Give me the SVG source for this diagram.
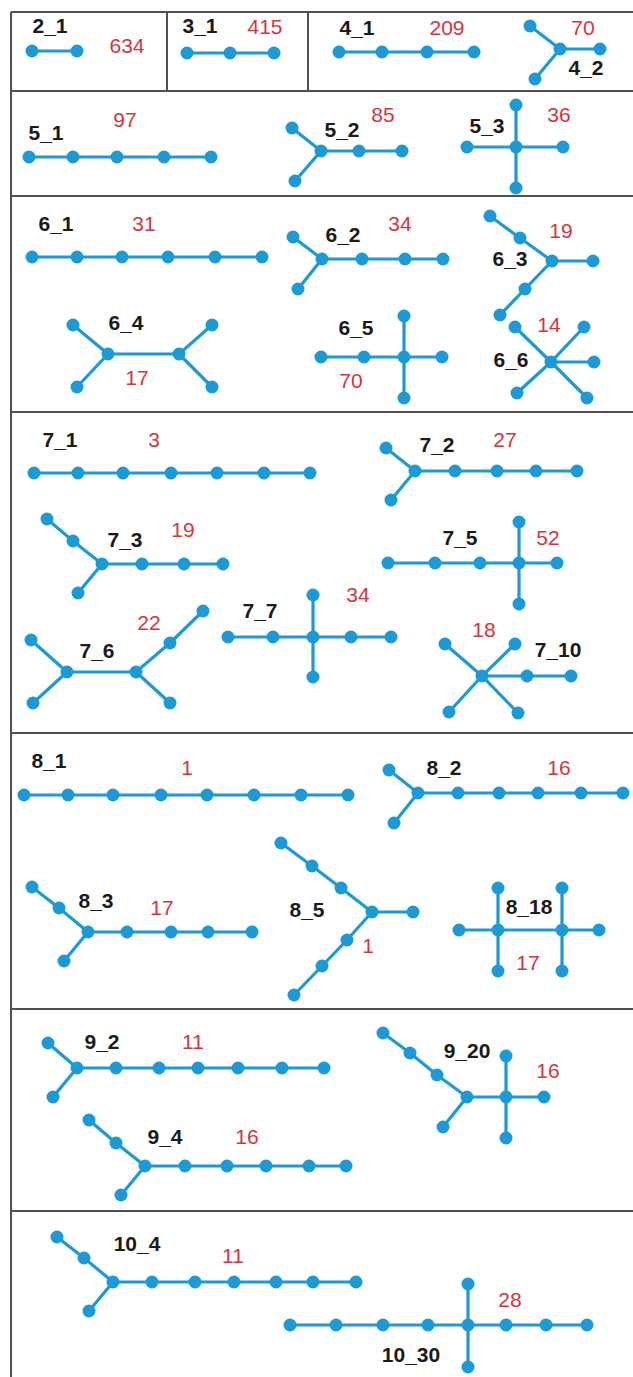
<svg xmlns="http://www.w3.org/2000/svg" width="633" height="1377" viewBox="0 0 633 1377">
<style>
.bd{stroke:#505050;stroke-width:2;fill:none}
.e{stroke:#1b9ad6;stroke-width:3.2;fill:none;stroke-linecap:round}
.n circle{fill:#1b9ad6}
.lb{font-family:"Liberation Sans",Arial,sans-serif;font-size:21px;font-weight:bold;fill:#1a1a1a;text-anchor:middle}
.ct{font-family:"Liberation Sans",Arial,sans-serif;font-size:21px;fill:#d6343c;text-anchor:middle}
</style>
<rect width="633" height="1377" fill="#ffffff"/>
<g id="frame" class="bd">
<path d="M11 12V1377M11 12H633M11 91H633M11 196H633M11 412H633M11 733H633M11 1009H633M11 1211H633M167 12V91M308 12V91"/>
</g>
<g id="connectors" class="e">
<path d="M32 51H77"/>
<path d="M187 53H274"/>
<path d="M339 52H474"/>
<path d="M530 26L560 49L535 79M560 49H600"/>
<path d="M29 157H211"/>
<path d="M292 128L321 151L295 181M321 151H402"/>
<path d="M467 147H563M516 105V188"/>
<path d="M32 257H262"/>
<path d="M293 237L322 259L298 289M322 259H443"/>
<path d="M490 216L520 238L552 261L525 289L500 315M552 261H593"/>
<path d="M73 325L108 354L77 387M108 354H179M212 325L179 354L212 387"/>
<path d="M321 357H442M404 316V398"/>
<path d="M515 327L551 362L587 398M584 327L551 362L517 393M551 362H594"/>
<path d="M34 473H310"/>
<path d="M386 448L415 471L391 500M415 471H577"/>
<path d="M47 519L73 541L102 564L78 593M102 564H223"/>
<path d="M388 563H557M519 522V604"/>
<path d="M31 640L67 672L33 703M67 672H136L170 643L203 611M136 672L170 703"/>
<path d="M228 637H391M313 595V677"/>
<path d="M445 644L482 676L518 713M515 644L482 676L449 712M482 676H571"/>
<path d="M24 795H348"/>
<path d="M389 770L418 793L394 823M418 793H623"/>
<path d="M32 887L59 908L88 932L64 961M88 932H252"/>
<path d="M281 843L312 866L341 888L372 912L347 940L322 966L294 995M372 912H413"/>
<path d="M459 930H599M498 888V971M562 888V971"/>
<path d="M48 1043L77 1068L53 1097M77 1068H324"/>
<path d="M89 1120L116 1143L145 1166L121 1195M145 1166H346"/>
<path d="M383 1033L410 1053L437 1075L467 1097L443 1127M467 1097H544M506 1056V1138"/>
<path d="M57 1237L84 1258L113 1282L89 1311M113 1282H356"/>
<path d="M290 1325H587M468 1284V1367"/>
</g>
<g id="g2_1" class="n"><circle cx="32" cy="51" r="6.5"/><circle cx="77" cy="51" r="6.5"/><text class="lb" x="50" y="33">2_1</text><text class="ct" x="127" y="53">634</text></g>
<g id="g3_1" class="n"><circle cx="187" cy="53" r="6.5"/><circle cx="230" cy="53" r="6.5"/><circle cx="274" cy="53" r="6.5"/><text class="lb" x="200" y="33">3_1</text><text class="ct" x="265" y="34">415</text></g>
<g id="g4_1" class="n"><circle cx="339" cy="52" r="6.5"/><circle cx="382" cy="52" r="6.5"/><circle cx="427" cy="52" r="6.5"/><circle cx="474" cy="52" r="6.5"/><text class="lb" x="357" y="35">4_1</text><text class="ct" x="447" y="35">209</text></g>
<g id="g4_2" class="n"><circle cx="530" cy="26" r="6.5"/><circle cx="560" cy="49" r="6.5"/><circle cx="535" cy="79" r="6.5"/><circle cx="600" cy="49" r="6.5"/><text class="ct" x="583" y="35">70</text><text class="lb" x="586" y="75">4_2</text></g>
<g id="g5_1" class="n"><circle cx="29" cy="157" r="6.5"/><circle cx="73" cy="157" r="6.5"/><circle cx="117" cy="157" r="6.5"/><circle cx="164" cy="157" r="6.5"/><circle cx="211" cy="157" r="6.5"/><text class="lb" x="46" y="140">5_1</text><text class="ct" x="125" y="127">97</text></g>
<g id="g5_2" class="n"><circle cx="292" cy="128" r="6.5"/><circle cx="321" cy="151" r="6.5"/><circle cx="295" cy="181" r="6.5"/><circle cx="359" cy="151" r="6.5"/><circle cx="402" cy="151" r="6.5"/><text class="lb" x="342" y="137">5_2</text><text class="ct" x="383" y="122">85</text></g>
<g id="g5_3" class="n"><circle cx="516" cy="147" r="6.5"/><circle cx="516" cy="105" r="6.5"/><circle cx="516" cy="188" r="6.5"/><circle cx="467" cy="147" r="6.5"/><circle cx="563" cy="147" r="6.5"/><text class="lb" x="487" y="133">5_3</text><text class="ct" x="559" y="122">36</text></g>
<g id="g6_1" class="n"><circle cx="32" cy="257" r="6.5"/><circle cx="77" cy="257" r="6.5"/><circle cx="122" cy="257" r="6.5"/><circle cx="168" cy="257" r="6.5"/><circle cx="215" cy="257" r="6.5"/><circle cx="262" cy="257" r="6.5"/><text class="lb" x="56" y="231">6_1</text><text class="ct" x="144" y="231">31</text></g>
<g id="g6_2" class="n"><circle cx="293" cy="237" r="6.5"/><circle cx="322" cy="259" r="6.5"/><circle cx="298" cy="289" r="6.5"/><circle cx="362" cy="259" r="6.5"/><circle cx="405" cy="259" r="6.5"/><circle cx="443" cy="259" r="6.5"/><text class="lb" x="343" y="242">6_2</text><text class="ct" x="400" y="231">34</text></g>
<g id="g6_3" class="n"><circle cx="490" cy="216" r="6.5"/><circle cx="520" cy="238" r="6.5"/><circle cx="552" cy="261" r="6.5"/><circle cx="593" cy="261" r="6.5"/><circle cx="525" cy="289" r="6.5"/><circle cx="500" cy="315" r="6.5"/><text class="lb" x="510" y="266">6_3</text><text class="ct" x="561" y="238">19</text></g>
<g id="g6_4" class="n"><circle cx="108" cy="354" r="6.5"/><circle cx="179" cy="354" r="6.5"/><circle cx="73" cy="325" r="6.5"/><circle cx="77" cy="387" r="6.5"/><circle cx="212" cy="325" r="6.5"/><circle cx="212" cy="387" r="6.5"/><text class="lb" x="126" y="330">6_4</text><text class="ct" x="137" y="385">17</text></g>
<g id="g6_5" class="n"><circle cx="404" cy="357" r="6.5"/><circle cx="404" cy="316" r="6.5"/><circle cx="404" cy="398" r="6.5"/><circle cx="442" cy="357" r="6.5"/><circle cx="364" cy="357" r="6.5"/><circle cx="321" cy="357" r="6.5"/><text class="lb" x="356" y="335">6_5</text><text class="ct" x="351" y="388">70</text></g>
<g id="g6_6" class="n"><circle cx="551" cy="362" r="6.5"/><circle cx="515" cy="327" r="6.5"/><circle cx="584" cy="327" r="6.5"/><circle cx="594" cy="362" r="6.5"/><circle cx="517" cy="393" r="6.5"/><circle cx="587" cy="398" r="6.5"/><text class="lb" x="511" y="367">6_6</text><text class="ct" x="549" y="332">14</text></g>
<g id="g7_1" class="n"><circle cx="34" cy="473" r="6.5"/><circle cx="78" cy="473" r="6.5"/><circle cx="123" cy="473" r="6.5"/><circle cx="171" cy="473" r="6.5"/><circle cx="217" cy="473" r="6.5"/><circle cx="264" cy="473" r="6.5"/><circle cx="310" cy="473" r="6.5"/><text class="lb" x="60" y="447">7_1</text><text class="ct" x="154" y="447">3</text></g>
<g id="g7_2" class="n"><circle cx="386" cy="448" r="6.5"/><circle cx="415" cy="471" r="6.5"/><circle cx="391" cy="500" r="6.5"/><circle cx="455" cy="471" r="6.5"/><circle cx="497" cy="471" r="6.5"/><circle cx="536" cy="471" r="6.5"/><circle cx="577" cy="471" r="6.5"/><text class="lb" x="437" y="452">7_2</text><text class="ct" x="505" y="447">27</text></g>
<g id="g7_3" class="n"><circle cx="47" cy="519" r="6.5"/><circle cx="73" cy="541" r="6.5"/><circle cx="102" cy="564" r="6.5"/><circle cx="78" cy="593" r="6.5"/><circle cx="142" cy="564" r="6.5"/><circle cx="184" cy="564" r="6.5"/><circle cx="223" cy="564" r="6.5"/><text class="lb" x="125" y="547">7_3</text><text class="ct" x="183" y="537">19</text></g>
<g id="g7_5" class="n"><circle cx="388" cy="563" r="6.5"/><circle cx="435" cy="563" r="6.5"/><circle cx="480" cy="563" r="6.5"/><circle cx="519" cy="563" r="6.5"/><circle cx="557" cy="563" r="6.5"/><circle cx="519" cy="522" r="6.5"/><circle cx="519" cy="604" r="6.5"/><text class="lb" x="460" y="545">7_5</text><text class="ct" x="548" y="545">52</text></g>
<g id="g7_6" class="n"><circle cx="67" cy="672" r="6.5"/><circle cx="136" cy="672" r="6.5"/><circle cx="31" cy="640" r="6.5"/><circle cx="33" cy="703" r="6.5"/><circle cx="170" cy="643" r="6.5"/><circle cx="203" cy="611" r="6.5"/><circle cx="170" cy="703" r="6.5"/><text class="lb" x="97" y="658">7_6</text><text class="ct" x="149" y="630">22</text></g>
<g id="g7_7" class="n"><circle cx="228" cy="637" r="6.5"/><circle cx="273" cy="637" r="6.5"/><circle cx="313" cy="637" r="6.5"/><circle cx="313" cy="595" r="6.5"/><circle cx="313" cy="677" r="6.5"/><circle cx="351" cy="637" r="6.5"/><circle cx="391" cy="637" r="6.5"/><text class="lb" x="260" y="618">7_7</text><text class="ct" x="358" y="602">34</text></g>
<g id="g7_10" class="n"><circle cx="482" cy="676" r="6.5"/><circle cx="445" cy="644" r="6.5"/><circle cx="515" cy="644" r="6.5"/><circle cx="527" cy="676" r="6.5"/><circle cx="571" cy="676" r="6.5"/><circle cx="449" cy="712" r="6.5"/><circle cx="518" cy="713" r="6.5"/><text class="lb" x="558" y="657">7_10</text><text class="ct" x="484" y="637">18</text></g>
<g id="g8_1" class="n"><circle cx="24" cy="795" r="6.5"/><circle cx="68" cy="795" r="6.5"/><circle cx="113" cy="795" r="6.5"/><circle cx="161" cy="795" r="6.5"/><circle cx="207" cy="795" r="6.5"/><circle cx="254" cy="795" r="6.5"/><circle cx="301" cy="795" r="6.5"/><circle cx="348" cy="795" r="6.5"/><text class="lb" x="49" y="768">8_1</text><text class="ct" x="187" y="775">1</text></g>
<g id="g8_2" class="n"><circle cx="389" cy="770" r="6.5"/><circle cx="418" cy="793" r="6.5"/><circle cx="394" cy="823" r="6.5"/><circle cx="458" cy="793" r="6.5"/><circle cx="499" cy="793" r="6.5"/><circle cx="538" cy="793" r="6.5"/><circle cx="581" cy="793" r="6.5"/><circle cx="623" cy="793" r="6.5"/><text class="lb" x="444" y="775">8_2</text><text class="ct" x="559" y="775">16</text></g>
<g id="g8_3" class="n"><circle cx="32" cy="887" r="6.5"/><circle cx="59" cy="908" r="6.5"/><circle cx="88" cy="932" r="6.5"/><circle cx="64" cy="961" r="6.5"/><circle cx="127" cy="932" r="6.5"/><circle cx="171" cy="932" r="6.5"/><circle cx="208" cy="932" r="6.5"/><circle cx="252" cy="932" r="6.5"/><text class="lb" x="96" y="908">8_3</text><text class="ct" x="162" y="915">17</text></g>
<g id="g8_5" class="n"><circle cx="281" cy="843" r="6.5"/><circle cx="312" cy="866" r="6.5"/><circle cx="341" cy="888" r="6.5"/><circle cx="372" cy="912" r="6.5"/><circle cx="413" cy="912" r="6.5"/><circle cx="347" cy="940" r="6.5"/><circle cx="322" cy="966" r="6.5"/><circle cx="294" cy="995" r="6.5"/><text class="lb" x="307" y="917">8_5</text><text class="ct" x="368" y="953">1</text></g>
<g id="g8_18" class="n"><circle cx="498" cy="930" r="6.5"/><circle cx="562" cy="930" r="6.5"/><circle cx="498" cy="888" r="6.5"/><circle cx="562" cy="888" r="6.5"/><circle cx="498" cy="971" r="6.5"/><circle cx="562" cy="971" r="6.5"/><circle cx="459" cy="930" r="6.5"/><circle cx="599" cy="930" r="6.5"/><text class="lb" x="529" y="914">8_18</text><text class="ct" x="528" y="970">17</text></g>
<g id="g9_2" class="n"><circle cx="48" cy="1043" r="6.5"/><circle cx="77" cy="1068" r="6.5"/><circle cx="53" cy="1097" r="6.5"/><circle cx="116" cy="1068" r="6.5"/><circle cx="159" cy="1068" r="6.5"/><circle cx="198" cy="1068" r="6.5"/><circle cx="238" cy="1068" r="6.5"/><circle cx="282" cy="1068" r="6.5"/><circle cx="324" cy="1068" r="6.5"/><text class="lb" x="102" y="1049">9_2</text><text class="ct" x="193" y="1049">11</text></g>
<g id="g9_4" class="n"><circle cx="89" cy="1120" r="6.5"/><circle cx="116" cy="1143" r="6.5"/><circle cx="145" cy="1166" r="6.5"/><circle cx="121" cy="1195" r="6.5"/><circle cx="185" cy="1166" r="6.5"/><circle cx="227" cy="1166" r="6.5"/><circle cx="266" cy="1166" r="6.5"/><circle cx="309" cy="1166" r="6.5"/><circle cx="346" cy="1166" r="6.5"/><text class="lb" x="165" y="1144">9_4</text><text class="ct" x="247" y="1144">16</text></g>
<g id="g9_20" class="n"><circle cx="383" cy="1033" r="6.5"/><circle cx="410" cy="1053" r="6.5"/><circle cx="437" cy="1075" r="6.5"/><circle cx="467" cy="1097" r="6.5"/><circle cx="443" cy="1127" r="6.5"/><circle cx="506" cy="1097" r="6.5"/><circle cx="506" cy="1056" r="6.5"/><circle cx="506" cy="1138" r="6.5"/><circle cx="544" cy="1097" r="6.5"/><text class="lb" x="467" y="1058">9_20</text><text class="ct" x="548" y="1078">16</text></g>
<g id="g10_4" class="n"><circle cx="57" cy="1237" r="6.5"/><circle cx="84" cy="1258" r="6.5"/><circle cx="113" cy="1282" r="6.5"/><circle cx="89" cy="1311" r="6.5"/><circle cx="152" cy="1282" r="6.5"/><circle cx="195" cy="1282" r="6.5"/><circle cx="234" cy="1282" r="6.5"/><circle cx="276" cy="1282" r="6.5"/><circle cx="313" cy="1282" r="6.5"/><circle cx="356" cy="1282" r="6.5"/><text class="lb" x="137" y="1251">10_4</text><text class="ct" x="233" y="1263">11</text></g>
<g id="g10_30" class="n"><circle cx="290" cy="1325" r="6.5"/><circle cx="336" cy="1325" r="6.5"/><circle cx="383" cy="1325" r="6.5"/><circle cx="428" cy="1325" r="6.5"/><circle cx="468" cy="1325" r="6.5"/><circle cx="506" cy="1325" r="6.5"/><circle cx="546" cy="1325" r="6.5"/><circle cx="587" cy="1325" r="6.5"/><circle cx="468" cy="1284" r="6.5"/><circle cx="468" cy="1367" r="6.5"/><text class="lb" x="411" y="1362">10_30</text><text class="ct" x="510" y="1307">28</text></g>
</svg>
